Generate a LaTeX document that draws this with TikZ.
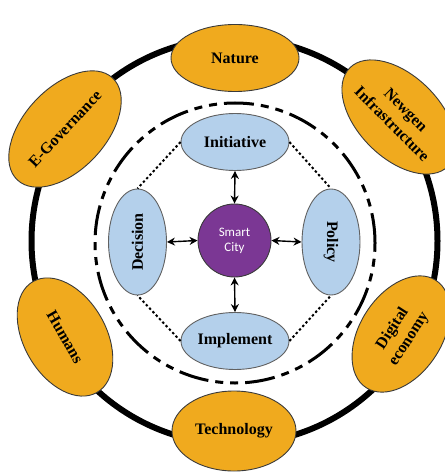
\documentclass[tikz,border=0pt]{standalone}
\usepackage{fontspec}
\setmainfont{Liberation Serif}
\newfontfamily\calibrifont{Carlito}
\usetikzlibrary{shapes.geometric,arrows.meta}
\definecolor{orng}{HTML}{F0AA1E}
\definecolor{lblue}{HTML}{B4D0EB}
\definecolor{purp}{HTML}{7B3794}
\definecolor{edge}{HTML}{3A3A3A}
\tikzset{
  outerbox/.style={ellipse, draw=edge, line width=0.9pt, fill=orng, inner sep=0pt,
    minimum width=128pt, minimum height=82pt, font=\fontsize{16}{19.5}\selectfont\bfseries, align=center},
  innerbox/.style={ellipse, draw=edge!80, line width=0.9pt, fill=lblue, inner sep=0pt,
    minimum width=108pt, minimum height=57pt, font=\fontsize{16}{18}\selectfont\bfseries},
  hub/.style={circle, draw=edge, line width=0.9pt, fill=purp, inner sep=0pt,
    minimum size=73pt, text=white, align=center, font=\calibrifont\fontsize{13}{15}\selectfont},
  ring/.style={line width=6pt, black},
  dashring/.style={line width=3pt, black, dash pattern=on 30pt off 7pt on 8pt off 7pt on 8pt off 7pt},
  dotline/.style={line width=2pt, black, dash pattern=on 2.4pt off 2.4pt},
  biarrow/.style={line width=1.4pt, black, {Stealth[length=8pt,width=8pt]}-{Stealth[length=8pt,width=8pt]}}
}
\begin{document}
\begin{tikzpicture}[x=1pt,y=-1pt]
\useasboundingbox (0,0) rectangle (444,473);
\coordinate (oc) at (234.5,241);
\coordinate (ic) at (235,243);
\draw[ring] (oc) circle[radius=203pt];
\draw[dashring] (ic) circle[radius=140pt];

\node[outerbox, minimum width=128pt, minimum height=67pt] (nature) at (235,58) {Nature};
\node[outerbox, minimum width=124pt, minimum height=80pt] (tech) at (234,431) {Technology};
\node[outerbox, rotate=47] (egov) at (65,129) {E-Governance};
\node[outerbox, rotate=-45] (newgen) at (399,117) {Newgen\\Infrastructure};
\node[outerbox, rotate=-60] (humans) at (65,337) {Humans};
\node[outerbox, rotate=57] (digital) at (401,334) {Digital\\economy};

\node[hub] (city) at (234.5,240.5) {Smart\\City};
\node[innerbox] (init) at (235,142) {Initiative};
\node[innerbox] (impl) at (235,341) {Implement};
\node[innerbox, rotate=90, minimum width=106pt, minimum height=58pt] (dec) at (137.5,242) {Decision};
\node[innerbox, rotate=-90, minimum width=106pt, minimum height=58pt] (pol) at (331,242) {Policy};

\draw[dotline] (init.west) -- (dec.east);
\draw[dotline] (init.east) -- (pol.west);
\draw[dotline] (impl.west) -- (dec.west);
\draw[dotline] (impl.east) -- (pol.east);

\draw[biarrow] (init.south) -- (city.north);
\draw[biarrow] (impl.north) -- (city.south);
\draw[biarrow] (dec.south) -- (city.west);
\draw[biarrow] (pol.south) -- (city.east);
\end{tikzpicture}
\end{document}
